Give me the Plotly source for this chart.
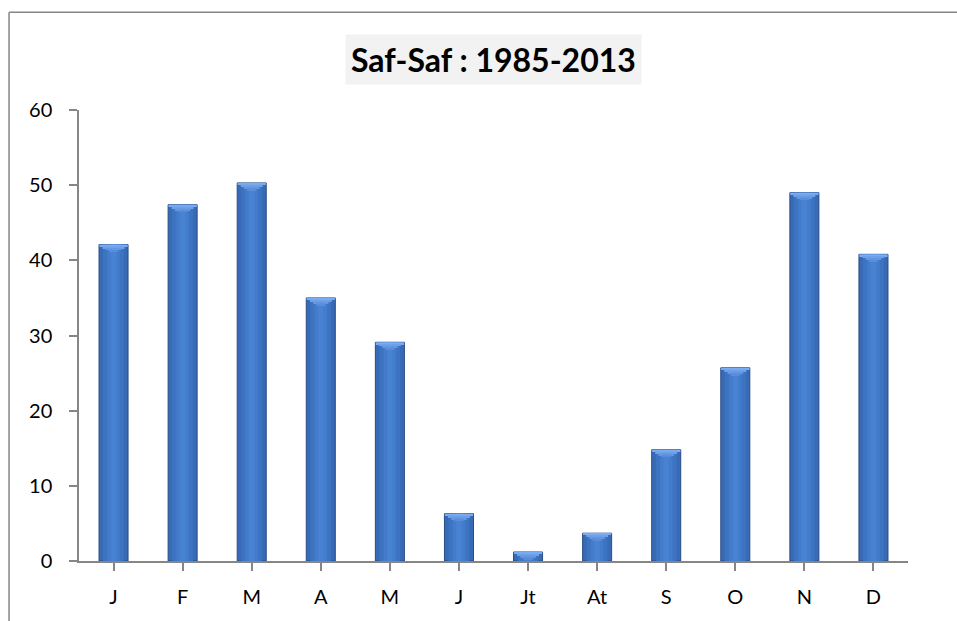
import plotly.graph_objects as go

months = ["J", "F", "M", "A", "M", "J", "Jt", "At", "S", "O", "N", "D"]
rainfall = [42.1, 47.4, 50.3, 35.0, 29.1, 6.3, 1.2, 3.7, 14.8, 25.7, 49.0, 40.8]
y_ticks = [0, 10, 20, 30, 40, 50, 60]

AXIS = "#868686"
BAR_W = 0.42

# unique x positions so repeated month letters stay separate categories
x = list(range(len(months)))

fig = go.Figure()

# main bar body
fig.add_trace(go.Bar(
    x=x, y=rainfall, width=BAR_W,
    marker=dict(color="#386ab6", line=dict(color="#284c84", width=1)),
    hoverinfo="skip",
))

# lighter centre bands to fake the cylinder shading
for w, col in [(0.30, "#3d74c2"), (0.18, "#437ccb"), (0.08, "#4882d2")]:
    fig.add_trace(go.Bar(
        x=x, y=rainfall, width=w,
        marker=dict(color=col, line=dict(width=0)),
        hoverinfo="skip",
    ))

# stepped bevel at the top of each bar
step = 0.24
for k, col in enumerate(["#7aacf2", "#6ea1ea", "#6497e2", "#5a8cd8"]):
    tops = [max(v - k * step, 0) for v in rainfall]
    bases = [max(v - (k + 1) * step, 0) for v in rainfall]
    fig.add_trace(go.Bar(
        x=x, y=[t - b for t, b in zip(tops, bases)], base=bases,
        width=BAR_W * (1 - k / 4.5) - 0.01,
        marker=dict(color=col, line=dict(width=0)),
        hoverinfo="skip",
    ))

# chart frame: only left and top edges are visible in the original
frame = dict(type="line", xref="paper", yref="paper",
             line=dict(color=AXIS, width=1.5), layer="below")

fig.update_layout(
    barmode="overlay",
    showlegend=False,
    width=957, height=621,
    paper_bgcolor="white", plot_bgcolor="white",
    margin=dict(l=79, r=49, t=110, b=60),
    font=dict(family="Lato, Calibri, sans-serif", size=20, color="black"),
    xaxis=dict(
        tickmode="array", tickvals=x, ticktext=months,
        range=[-0.5, len(months) - 0.5],
        showgrid=False, zeroline=False,
        showline=True, linecolor=AXIS, linewidth=1.5,
        ticks="outside", ticklen=8, tickcolor=AXIS, tickwidth=1.5,
        tickson="boundaries",
        tickfont=dict(size=20),
        ticklabelstandoff=9,
    ),
    yaxis=dict(
        range=[0, 60], tickvals=y_ticks,
        showgrid=False, zeroline=False,
        showline=True, linecolor=AXIS, linewidth=1.5,
        ticks="outside", ticklen=8, tickcolor=AXIS, tickwidth=1.5,
        tickfont=dict(size=20),
        ticklabelstandoff=13,
    ),
    shapes=[
        dict(frame, x0=-0.0844, x1=-0.0844, y0=-0.3, y1=1.217),
        dict(frame, x0=-0.0844, x1=1.2, y0=1.217, y1=1.217),
    ],
    annotations=[dict(
        text="<b>Saf-Saf : 1985-2013</b>",
        xref="paper", yref="paper", x=0.5, y=1.113,
        xanchor="center", yanchor="middle", showarrow=False,
        font=dict(size=32, family="Lato, Calibri, sans-serif", color="black"),
        bgcolor="#f2f2f2", borderpad=5,
    )],
)

fig.write_html(
    "out.html",
    config={"displayModeBar": False},
    post_script="document.body.style.margin='0';document.body.style.overflow='hidden';",
)
